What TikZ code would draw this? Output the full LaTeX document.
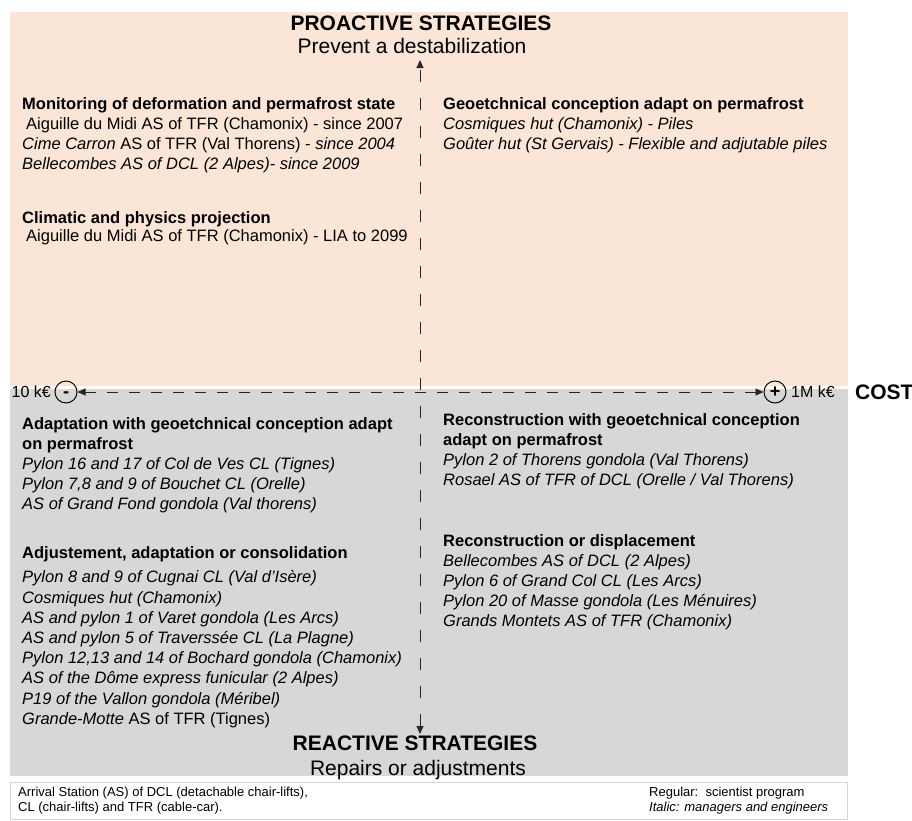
\documentclass[tikz,border=0pt]{standalone}
\usepackage{fontspec}
\setmainfont{Liberation Sans}
\usetikzlibrary{arrows.meta}

\definecolor{proactive}{RGB}{251,229,214}
\definecolor{reactive}{RGB}{217,214,214}
\definecolor{framegray}{RGB}{214,214,214}

\begin{document}
\begin{tikzpicture}[
    x=1pt, y=-1pt,
    block/.style={anchor=north west, align=left, inner sep=0pt,
        font=\fontsize{16.5}{20.2}\selectfont},
    title/.style={anchor=base, inner sep=0pt, font=\fontsize{21}{24}\selectfont\bfseries},
    subtitle/.style={anchor=base, inner sep=0pt, font=\fontsize{21}{24}\selectfont},
    sign/.style={circle, draw, line width=1pt, minimum size=22pt, inner sep=0pt,
        text height=11pt, text depth=0pt, font=\fontsize{18}{18}\selectfont\bfseries},
    costlabel/.style={inner sep=0pt, font=\fontsize{16}{16}\selectfont},
    legend/.style={anchor=north west, align=left, inner sep=0pt,
        font=\fontsize{13}{15}\selectfont},
    axis/.style={line width=0.9pt, black!85, {Triangle[length=8pt,width=7pt]}-{Triangle[length=8pt,width=7pt]}}
]

\useasboundingbox (0,0) rectangle (912,820);

% Two halves of the strategy plane
\fill[proactive] (10,12) rectangle (848,386);
\fill[reactive] (10,389) rectangle (848,776);
\draw[framegray, line width=1pt] (10.5,782) rectangle (847.5,819.5);

% Axis titles
\node[title] (pro) at (421,30) {PROACTIVE STRATEGIES};
\node[subtitle] (prosub) at (412,53) {Prevent a destabilization};
\node[title] (rea) at (415,750) {REACTIVE STRATEGIES};
\node[subtitle] (reasub) at (418,775) {Repairs or adjustments};

% Cost axis
\node[sign] (minus) at (66,392) {-};
\node[sign] (plus) at (775,392) {+};
\node[costlabel, anchor=east] (lowcost) at (51,392) {10 k€};
\node[costlabel, anchor=west] (highcost) at (791,392) {1M k€};
\node[title, anchor=west] (cost) at (855,392) {COST};
\coordinate (vtop) at (420,60);
\coordinate (vbot) at (420,734);

\draw[axis, dash pattern=on 11pt off 11pt] (minus) -- (plus);
\draw[axis, dash pattern=on 12pt off 16pt] (vbot) -- (vtop);

% Proactive side
\node[block] (monitor) at (22,97) {\textbf{Monitoring of deformation and permafrost state}\\
    \hspace*{4pt}Aiguille du Midi AS of TFR (Chamonix) - since 2007\\
    \textit{Cime Carron} AS of TFR (Val Thorens) - \textit{since 2004}\\
    \textit{Bellecombes AS of DCL (2 Alpes)- since 2009}};
\node[block] (climate) at (22,211) {\textbf{Climatic and physics projection}\\[-1.6pt]
    \hspace*{4pt}Aiguille du Midi AS of TFR (Chamonix) - LIA to 2099};
\node[block] (geoconc) at (443,97) {\textbf{Geoetchnical conception adapt on permafrost}\\
    \textit{Cosmiques hut (Chamonix) - Piles}\\
    \textit{Goûter hut (St Gervais) - Flexible and adjutable piles}};

% Reactive side
\node[block] (adaptgeo) at (22,417) {\textbf{Adaptation with geoetchnical conception adapt}\\
    \textbf{on permafrost}\\
    \textit{Pylon 16 and 17 of Col de Ves CL (Tignes)}\\
    \textit{Pylon 7,8 and 9 of Bouchet CL (Orelle)}\\
    \textit{AS of Grand Fond gondola (Val thorens)}};
\node[block] (adjust) at (22,546) {\textbf{Adjustement, adaptation or consolidation}\\[4.5pt]
    \textit{Pylon 8 and 9 of Cugnai CL (Val d’Isère)}\\
    \textit{Cosmiques hut (Chamonix)}\\
    \textit{AS and pylon 1 of Varet gondola (Les Arcs)}\\
    \textit{AS and pylon 5 of Traverssée CL (La Plagne)}\\
    \textit{Pylon 12,13 and 14 of Bochard gondola (Chamonix)}\\
    \textit{AS of the Dôme express funicular (2 Alpes)}\\
    \textit{P19 of the Vallon gondola (Méribel)}\\
    \textit{Grande-Motte} AS of TFR (Tignes)};
\node[block] (recongeo) at (443,413) {\textbf{Reconstruction with geoetchnical conception}\\
    \textbf{adapt on permafrost}\\
    \textit{Pylon 2 of Thorens gondola (Val Thorens)}\\
    \textit{Rosael AS of TFR of DCL (Orelle / Val Thorens)}};
\node[block] (recondisp) at (443,534) {\textbf{Reconstruction or displacement}\\
    \textit{Bellecombes AS of DCL (2 Alpes)}\\
    \textit{Pylon 6 of Grand Col CL (Les Arcs)}\\
    \textit{Pylon 20 of Masse gondola (Les Ménuires)}\\
    \textit{Grands Montets AS of TFR (Chamonix)}};

% Legend
\node[legend] (abbrev) at (18,787) {Arrival Station (AS) of DCL (detachable chair-lifts),\\
    CL (chair-lifts) and TFR (cable-car).};
\node[legend] (fontkey) at (649,787) {Regular:\ \ scientist program\\
    \textit{Italic: managers and engineers}};

\end{tikzpicture}
\end{document}
